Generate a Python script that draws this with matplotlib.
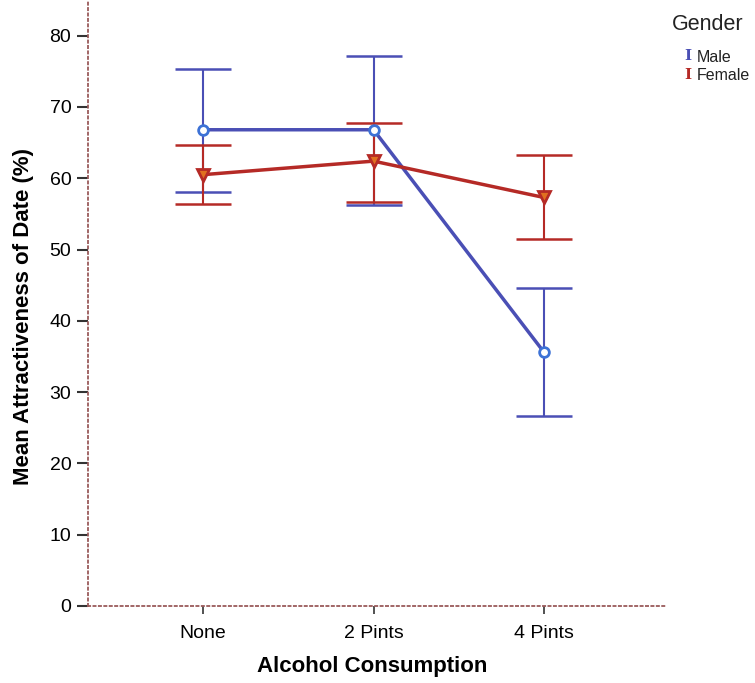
import matplotlib
matplotlib.use("Agg")
import matplotlib.pyplot as plt
import numpy as np

plt.rcParams['font.family'] = ['Liberation Sans', 'DejaVu Sans']

categories = ["None", "2 Pints", "4 Pints"]
male_mean = [66.8, 66.8, 35.6]
male_upper = [75.3, 77.1, 44.6]
male_lower = [58.1, 56.3, 26.6]
female_mean = [60.5, 62.4, 57.3]
female_upper = [64.6, 67.8, 63.3]
female_lower = [56.4, 56.6, 51.5]
yticks = [0, 10, 20, 30, 40, 50, 60, 70, 80]

blue = "#4a4fb5"
blue_m = "#3d72d6"
red = "#b52a26"

fig = plt.figure(figsize=(7.55, 6.83), dpi=100)
ax = fig.add_axes([88/755, 77/683, (665-88)/755, 606/683])
x = np.arange(len(categories))

def draw(mean, lo, hi, col, mcol, marker, ms):
    mean = np.array(mean); lo = np.array(lo); hi = np.array(hi)
    ax.errorbar(x, mean, yerr=[mean - lo, hi - mean], fmt='none', ecolor=col,
                elinewidth=1.5, capsize=20, capthick=1.8, zorder=2)
    ax.plot(x, mean, color=col, lw=2.5, zorder=3)
    ax.plot(x, mean, linestyle='none', marker=marker, ms=ms, mfc='#e07020' if marker == 'v' else 'white',
            mec=mcol, mew=2, zorder=4)

draw(male_mean, male_lower, male_upper, blue, blue_m, 'o', 7)
draw(female_mean, female_lower, female_upper, red, red, 'v', 9)

ax.set_xlim(-0.675, 2.71)
ax.set_ylim(0, 85)
ax.set_xticks(x)
ax.set_xticklabels(categories, fontsize=14)
ax.set_yticks(yticks)
ax.set_yticklabels([str(v) for v in yticks], fontsize=14)
ax.tick_params(axis='y', length=8, width=1.5, color='#333333', pad=4)
ax.tick_params(axis='x', length=6, width=1.2, color='#333333', pad=8)
for s in ['top', 'right']:
    ax.spines[s].set_visible(False)
for s in ['left', 'bottom']:
    ax.spines[s].set_linestyle((0, (1.2, 1.8)))
    ax.spines[s].set_color('#9a5a5a')
    ax.spines[s].set_linewidth(1.3)
ax.set_xlabel("Alcohol Consumption", fontsize=16, fontweight='bold')
ax.set_ylabel("Mean Attractiveness of Date (%)", fontsize=16, fontweight='bold')
ax.xaxis.set_label_coords(0.493, -0.082)
ax.yaxis.set_label_coords(-0.094, 0.477)

fig.text(672/755, 1 - 25/683, "Gender", fontsize=15.5, va='center', ha='left', color='#222222')
fig.text(684/755, 1 - 56/683, "I", fontsize=11, fontweight='bold', family='DejaVu Serif',
         color=blue, va='center', ha='left')
fig.text(697/755, 1 - 57/683, "Male", fontsize=11.5, va='center', ha='left', color='#222222')
fig.text(684/755, 1 - 75/683, "I", fontsize=11, fontweight='bold', family='DejaVu Serif',
         color=red, va='center', ha='left')
fig.text(697/755, 1 - 76/683, "Female", fontsize=11.5, va='center', ha='left', color='#222222')

fig.savefig("out.png", dpi=100)
